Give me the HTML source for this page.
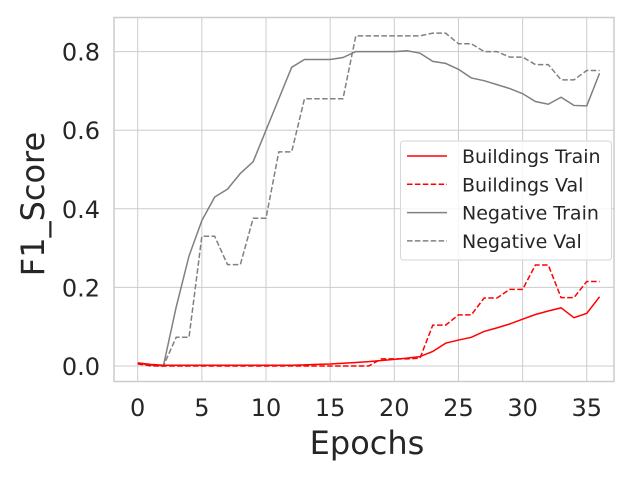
<!DOCTYPE html>
<html><head><meta charset="utf-8"><style>
body{margin:0;background:#fff}
svg text{font-family:"DejaVu Sans","Liberation Sans",sans-serif;fill:#262626}
</style></head><body>
<svg id="c" width="640" height="480"></svg>
<script>
const epochs=[0,1,2,3,4,5,6,7,8,9,10,11,12,13,14,15,16,17,18,19,20,21,22,23,24,25,26,27,28,29,30,31,32,33,34,35,36];
const buildingsTrain=[0.008,0.004,0.002,0.002,0.002,0.002,0.002,0.002,0.002,0.002,0.002,0.002,0.002,0.003,0.004,0.005,0.007,0.009,0.011,0.014,0.017,0.02,0.024,0.037,0.058,0.066,0.073,0.088,0.097,0.107,0.119,0.131,0.14,0.148,0.123,0.134,0.176];
const buildingsVal=[0.005,0.001,0,0,0,0,0,0,0,0,0,0,0,0,0,0,0,0,0,0.018,0.018,0.018,0.02,0.104,0.104,0.13,0.13,0.173,0.173,0.195,0.195,0.257,0.257,0.174,0.174,0.215,0.215];
const negativeTrain=[0.007,0.002,0,0.15,0.28,0.37,0.43,0.45,0.49,0.52,0.6,0.68,0.76,0.78,0.78,0.78,0.785,0.8,0.8,0.8,0.8,0.802,0.796,0.775,0.77,0.755,0.733,0.726,0.716,0.706,0.693,0.673,0.666,0.684,0.663,0.662,0.745];
const negativeVal=[0.007,0,0,0.073,0.073,0.33,0.33,0.258,0.258,0.376,0.376,0.545,0.545,0.68,0.68,0.68,0.68,0.84,0.84,0.84,0.84,0.84,0.84,0.847,0.847,0.82,0.82,0.8,0.8,0.786,0.786,0.767,0.767,0.728,0.728,0.752,0.752];
const xTicks=[0,5,10,15,20,25,30,35];
const yTicks=[0,0.2,0.4,0.6,0.8];
const yTickLabels=["0.0","0.2","0.4","0.6","0.8"];
const NS="http://www.w3.org/2000/svg";
const svg=document.getElementById('c');
const L=114,R=614,T=17.5,B=381.5;
const xs=v=>137.7+v*12.83;
const ys=v=>366-v*393;
function mk(t,a,parent){const e=document.createElementNS(NS,t);for(const k in a)e.setAttribute(k,a[k]);(parent||svg).appendChild(e);return e;}
const bg=mk('rect',{x:L,y:T,width:R-L,height:B-T,fill:'#fff'});


xTicks.forEach(t=>{
 const g=mk('line',{x1:xs(t),x2:xs(t),y1:T,y2:B,stroke:'#cccccc','stroke-width':1});
 
 
 const tx=mk('text',{x:xs(t),y:416,'text-anchor':'middle','font-size':24});
 tx.textContent=t;
 
 
});
yTicks.forEach((t,i)=>{
 const g=mk('line',{x1:L,x2:R,y1:ys(t),y2:ys(t),stroke:'#cccccc','stroke-width':1});
 
 
 const tx=mk('text',{x:100,y:ys(t)+9,'text-anchor':'end','font-size':24});
 tx.textContent=yTickLabels[i];
 
 
});
const fr=mk('rect',{x:L,y:T,width:R-L,height:B-T,fill:'none',stroke:'#cccccc','stroke-width':1.5});


function series(vals,color,dash,name){
 const p=mk('polyline',{points:vals.map((v,i)=>xs(epochs[i])+','+ys(v)).join(' '),fill:'none',stroke:color,'stroke-width':1.5,'stroke-dasharray':dash||'none'});
 
 
}
series(negativeTrain,'#808080',null,'negative-train-line');
series(negativeVal,'#808080','5.5,2.4','negative-val-line');
series(buildingsTrain,'#ff0000',null,'buildings-train-line');
series(buildingsVal,'#ff0000','5.5,2.4','buildings-val-line');
const xl=mk('text',{x:367,y:454,'text-anchor':'middle','font-size':32});
xl.textContent='Epochs';


const yl=mk('text',{x:0,y:0,'text-anchor':'middle','font-size':32,transform:'translate(44,204) rotate(-90)'});
yl.textContent='F1_Score';


const lg=mk('g',{});


mk('rect',{x:400.5,y:141,width:211,height:119,rx:3,fill:'#fff','fill-opacity':0.8,stroke:'#d6d6d6'},lg);
const legNames=['Buildings Train','Buildings Val','Negative Train','Negative Val'];
const legColors=['#ff0000','#ff0000','#808080','#808080'];
const legDash=['none','5.5,2.4','none','5.5,2.4'];
legNames.forEach((n,i)=>{
 const y=156+i*28.3;
 const ln=mk('line',{x1:407,x2:447,y1:y,y2:y,stroke:legColors[i],'stroke-width':1.5,'stroke-dasharray':legDash[i]},lg);
 
 
 const t=mk('text',{x:462,y:y+7,'font-size':19},lg);
 t.textContent=n;
 
 
});
</script>
</body></html>
